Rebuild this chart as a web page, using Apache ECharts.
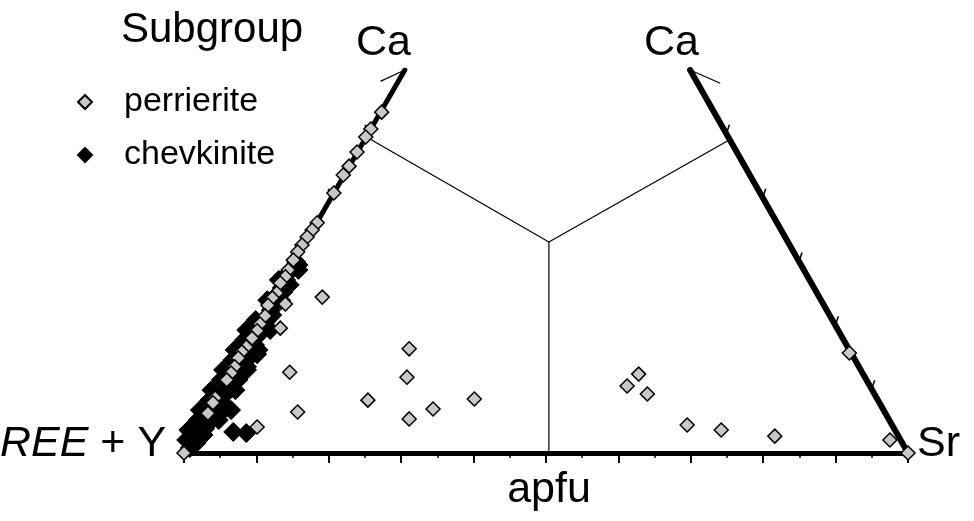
<!DOCTYPE html>
<html>
<head>
<meta charset="utf-8">
<script src="https://cdn.jsdelivr.net/npm/echarts@6/dist/echarts.min.js"></script>
<style>
  html, body { margin: 0; padding: 0; background: #fff; }
  #chart { width: 974px; height: 521px; }
</style>
</head>
<body>
<div id="chart"></div>
<script>
// Diagram space: x runs 0 (REE + Y) to 100 (Sr) along the base, y runs 0 (base) to 100 (Ca apex height).

// Perrierite-subgroup analyses
const perrierite = [
  [27.3, 89.0], [25.8, 84.6], [25.1, 82.5], [23.9, 78.6], [22.8, 74.9], [22.0, 72.6],
  [20.7, 67.9], [18.4, 60.1], [17.7, 58.2], [17.0, 56.4], [16.3, 54.3], [15.7, 52.5],
  [15.1, 50.4], [14.4, 47.8], [14.0, 46.0], [13.3, 44.4], [12.8, 41.8], [12.2, 40.5],
  [11.6, 38.6], [11.2, 35.8], [10.5, 33.7], [10.1, 31.9], [9.4, 30.0], [8.6, 27.7],
  [8.0, 26.4], [7.5, 24.8], [7.0, 22.5], [6.5, 20.9], [5.9, 19.1], [4.3, 14.4],
  [4.0, 13.1], [3.3, 10.4], [0, 0],
  [19.1, 40.7], [14.0, 38.9], [13.3, 32.6], [14.6, 21.1], [15.7, 10.7], [10.1, 6.8],
  [31.1, 27.2], [30.8, 19.8], [25.4, 13.8], [31.1, 8.9], [34.4, 11.5], [40.1, 14.1],
  [62.8, 20.6], [61.2, 17.5], [64.0, 15.4], [69.5, 7.3], [74.2, 6.0], [81.6, 4.4],
  [91.9, 26.1], [97.5, 3.4], [100, 0]
];

// Chevkinite-subgroup analyses
const chevkinite = [
  [15.5, 49.9], [14.6, 47.3], [14.1, 45.2], [13.5, 43.1], [13.1, 41.3], [12.6, 39.4],
  [12.0, 37.3], [11.6, 35.5], [11.0, 33.7], [10.5, 31.9], [9.9, 30.0], [9.4, 28.2],
  [8.8, 26.4], [8.3, 24.5], [7.9, 22.7], [7.3, 20.9], [6.8, 19.1], [6.2, 17.2],
  [5.7, 15.4], [5.1, 13.6], [4.6, 11.7], [4.0, 9.9], [3.5, 8.1], [2.9, 6.3],
  [2.3, 4.4], [1.7, 2.6], [0.8, 1.3],
  [15.8, 47.8], [14.6, 43.9], [13.4, 39.9], [12.2, 36.0], [11.0, 32.1], [9.8, 28.2],
  [8.7, 24.3], [7.5, 20.4], [6.3, 16.4], [5.1, 12.5], [3.9, 8.6], [2.7, 4.7],
  [13.1, 45.2], [11.5, 39.9], [9.9, 34.7], [8.3, 29.5], [6.7, 24.3], [5.1, 19.1],
  [3.5, 13.8], [1.9, 8.6], [0.3, 3.4],
  [11.9, 32.1], [10.3, 26.9], [8.7, 21.7], [7.1, 16.4], [5.5, 11.2],
  [8.6, 32.1], [7.0, 26.9], [5.4, 21.7], [3.8, 16.4], [2.2, 11.2], [0.6, 6.0],
  [15.8, 49.1], [13.7, 42.0], [11.3, 34.2], [8.9, 26.4], [6.5, 18.5], [4.1, 10.7], [1.7, 2.9],
  [6.5, 11.2], [6.8, 5.5], [8.6, 5.2], [4.8, 8.6], [8.7, 22.5], [7.5, 19.1], [10.1, 25.8]
];

// Diagram frame
const leftEdge = [[0, 0], [30.5, 100]];
const rightEdge = [[100, 0], [69.9, 100]];
const leftBarb = [[30.5, 100], [27.2, 97.1]];
const rightBarb = [[69.9, 100], [74.0, 96.6]];
const fieldBoundary = [[25.2, 82.5], [50.4, 55.1], [75.3, 81.7]];
const fieldDivider = [[50.4, 55.1], [50.4, 0]];
const edgeTickFractions = [1 / 6, 2 / 6, 3 / 6, 4 / 6, 5 / 6];

// Short tick strokes on both sloping edges
function edgeTicks(edge, dx, dy) {
  const [a, b] = edge;
  return edgeTickFractions.map(t => {
    const x = a[0] + (b[0] - a[0]) * t;
    const y = a[1] + (b[1] - a[1]) * t;
    return { coords: [[x, y], [x + dx, y + dy]] };
  });
}

const FONT = 'Liberation Sans, Arial, sans-serif';
const LABEL_FONT = '43px ' + FONT;

function frameLine(name, data, width) {
  return {
    name, type: 'line', data, symbol: 'none', silent: true, z: 1,
    lineStyle: { color: '#000', width, cap: 'round' }
  };
}

const chart = echarts.init(document.getElementById('chart'), null, { renderer: 'canvas' });
chart.setOption({
  animation: false,
  backgroundColor: '#fff',
  grid: { left: 184, right: 66, top: 70, bottom: 68, containLabel: false },
  xAxis: {
    type: 'value', min: 0, max: 100, interval: 10,
    axisLine: { show: true, onZero: false, lineStyle: { color: '#000', width: 5 } },
    axisTick: { show: true, length: 10, lineStyle: { color: '#000', width: 2 } },
    minorTick: { show: true, splitNumber: 2, length: 5, lineStyle: { color: '#000', width: 1.5 } },
    axisLabel: { show: false },
    splitLine: { show: false }
  },
  yAxis: { type: 'value', min: 0, max: 100, show: false },
  title: {
    text: 'Subgroup', left: 116, top: 4,
    textStyle: { fontFamily: FONT, fontSize: 42, fontWeight: 'normal', color: '#000' }
  },
  legend: {
    data: ['perrierite', 'chevkinite'],
    orient: 'vertical', left: 72, top: 80, itemGap: 19,
    itemWidth: 14, itemHeight: 14,
    textStyle: { fontFamily: FONT, fontSize: 34, color: '#000', padding: [0, 0, 0, 27] }
  },
  graphic: [
    { type: 'text', left: 356, top: 22, style: { text: 'Ca', font: LABEL_FONT, fill: '#000' } },
    { type: 'text', left: 644, top: 22, style: { text: 'Ca', font: LABEL_FONT, fill: '#000' } },
    { type: 'text', left: 917, top: 423, style: { text: 'Sr', font: LABEL_FONT, fill: '#000' } },
    {
      type: 'text', left: 0, top: 423,
      style: {
        text: '{i|REE} + Y',
        font: LABEL_FONT, fill: '#000',
        rich: { i: { fontStyle: 'italic', fontSize: 43, fontFamily: FONT } }
      }
    },
    {
      type: 'text', x: 549, y: 469,
      style: { text: 'apfu', font: LABEL_FONT, fill: '#000', align: 'center', verticalAlign: 'top' }
    }
  ],
  series: [
    frameLine('left edge', leftEdge, 5),
    frameLine('right edge', rightEdge, 6),
    frameLine('left arrow', leftBarb, 1.2),
    frameLine('right arrow', rightBarb, 1.2),
    frameLine('field boundary', fieldBoundary, 1.2),
    frameLine('field divider', fieldDivider, 1.2),
    {
      name: 'edge ticks', type: 'lines', coordinateSystem: 'cartesian2d', silent: true, z: 1,
      lineStyle: { color: '#000', width: 1.5, opacity: 1 },
      data: edgeTicks(rightEdge, 0.41, 2.35).concat(edgeTicks(leftEdge, -0.41, 2.35))
    },
    {
      name: 'chevkinite', type: 'scatter', data: chevkinite, z: 3,
      symbol: 'diamond', symbolSize: 19,
      itemStyle: { color: '#000', borderColor: '#000', borderWidth: 1, opacity: 1 }
    },
    {
      name: 'perrierite', type: 'scatter', data: perrierite, z: 4,
      symbol: 'diamond', symbolSize: 14,
      itemStyle: { color: '#c8c8c8', borderColor: '#000', borderWidth: 1.5, opacity: 1 }
    }
  ]
});
</script>
</body>
</html>
